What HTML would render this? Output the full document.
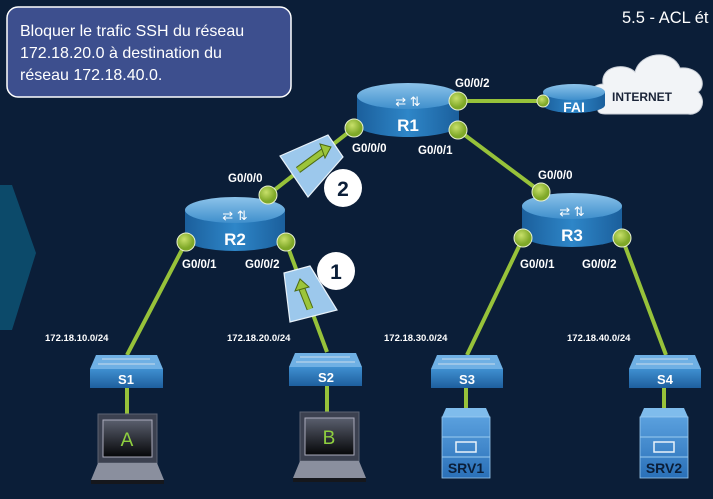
<!DOCTYPE html>
<html><head><meta charset="utf-8"><style>
html,body{margin:0;padding:0;background:#0b1e38;}
svg{display:block;}
text{font-family:"Liberation Sans",sans-serif;}
</style></head><body>
<svg width="713" height="499" viewBox="0 0 713 499" xmlns="http://www.w3.org/2000/svg">
<defs>
<linearGradient id="rb" x1="0" x2="1"><stop offset="0" stop-color="#1b5f9c"/><stop offset="0.5" stop-color="#2e86c8"/><stop offset="1" stop-color="#1b5f9c"/></linearGradient>
<linearGradient id="rt" x1="0" y1="0" x2="0" y2="1"><stop offset="0" stop-color="#8cc3ea"/><stop offset="1" stop-color="#3f8fcc"/></linearGradient>
<radialGradient id="dot" cx="0.4" cy="0.35"><stop offset="0" stop-color="#c8e06a"/><stop offset="1" stop-color="#7fa828"/></radialGradient>
<linearGradient id="sw" x1="0" y1="0" x2="0" y2="1"><stop offset="0" stop-color="#3f8fd0"/><stop offset="1" stop-color="#1e5f9e"/></linearGradient>
<linearGradient id="scr" x1="0" y1="0" x2="0" y2="1"><stop offset="0" stop-color="#5a5f6e"/><stop offset="1" stop-color="#050608"/></linearGradient>
<linearGradient id="srv" x1="0" y1="0" x2="0" y2="1"><stop offset="0" stop-color="#5aa0de"/><stop offset="1" stop-color="#2a70b8"/></linearGradient>
</defs>
<rect width="713" height="499" fill="#0b1e38"/>
<polygon points="0,185 12,185 36,253 12,330 0,330" fill="#0c4a6a"/>

<rect x="7" y="7" width="284" height="90" rx="11" fill="#3d4f8e" stroke="#ffffff" stroke-width="1.5"/>
<text fill="#fff" font-size="16"><tspan x="20" y="36">Bloquer le trafic SSH du réseau</tspan><tspan x="20" y="58">172.18.20.0 à destination du</tspan><tspan x="20" y="80">réseau 172.18.40.0.</tspan></text>
<text x="622" y="23" fill="#fff" font-size="16.5">5.5 - ACL ét</text>

<g stroke="#97c23a" stroke-width="4" fill="none">
<line x1="268" y1="195" x2="354" y2="128"/>
<line x1="458" y1="130" x2="541" y2="192"/>
<line x1="458" y1="101" x2="543" y2="101"/>
<line x1="186" y1="242" x2="127" y2="355"/>
<line x1="286" y1="242" x2="327" y2="352"/>
<line x1="523" y1="238" x2="467" y2="355"/>
<line x1="622" y1="238" x2="666" y2="355"/>
<line x1="127" y1="388" x2="127" y2="414"/>
<line x1="327" y1="386" x2="327" y2="412"/>
<line x1="466" y1="388" x2="466" y2="408"/>
<line x1="664" y1="388" x2="664" y2="408"/>
</g>

<g fill="#f2f4f7" stroke="#c9ced6">
<path d="M600,108 C585,108 585,85 603,84 C600,66 625,62 635,72 C640,52 672,48 680,68 C700,66 708,85 698,92 C708,102 700,116 688,114 L605,114 C598,114 596,110 600,108 Z"/>
</g>
<text x="612" y="101" font-size="12" font-weight="bold" fill="#1b2438">INTERNET</text>

<g>
<g>
<path d="M357,96 L357,124 A51,13 0 0 0 459,124 L459,96 Z" fill="url(#rb)"/>
<ellipse cx="408" cy="96" rx="51" ry="13" fill="url(#rt)"/>
<text x="408" y="106" text-anchor="middle" fill="#fff" font-size="13">⇄ ⇅</text>
<text x="408" y="131" text-anchor="middle" fill="#fff" font-size="17" font-weight="bold">R1</text>
</g>
<g>
<path d="M185,210 L185,238 A50,13 0 0 0 285,238 L285,210 Z" fill="url(#rb)"/>
<ellipse cx="235" cy="210" rx="50" ry="13" fill="url(#rt)"/>
<text x="235" y="220" text-anchor="middle" fill="#fff" font-size="13">⇄ ⇅</text>
<text x="235" y="245" text-anchor="middle" fill="#fff" font-size="17" font-weight="bold">R2</text>
</g>
<g>
<path d="M522,206 L522,234 A50,13 0 0 0 622,234 L622,206 Z" fill="url(#rb)"/>
<ellipse cx="572" cy="206" rx="50" ry="13" fill="url(#rt)"/>
<text x="572" y="216" text-anchor="middle" fill="#fff" font-size="13">⇄ ⇅</text>
<text x="572" y="241" text-anchor="middle" fill="#fff" font-size="17" font-weight="bold">R3</text>
</g>
<g>
<path d="M543,92 L543,105 A31,8 0 0 0 605,105 L605,92 Z" fill="url(#rb)"/>
<ellipse cx="574" cy="92" rx="31" ry="8" fill="url(#rt)"/>
<text x="574" y="112" text-anchor="middle" fill="#fff" font-size="14" font-weight="bold">FAI</text>
</g>
</g>

<g fill="url(#dot)" stroke="#e8f0d0" stroke-width="1">
<circle cx="458" cy="101" r="9"/><circle cx="354" cy="128" r="9"/><circle cx="458" cy="130" r="9"/>
<circle cx="268" cy="195" r="9"/><circle cx="186" cy="242" r="9"/><circle cx="286" cy="242" r="9"/>
<circle cx="541" cy="192" r="9"/><circle cx="523" cy="238" r="9"/><circle cx="622" cy="238" r="9"/>
<circle cx="543" cy="101" r="6"/>
</g>

<g fill="#fff" font-size="11.5" font-weight="bold">
<text x="455" y="87">G0/0/2</text>
<text x="352" y="152">G0/0/0</text>
<text x="418" y="154">G0/0/1</text>
<text x="228" y="182">G0/0/0</text>
<text x="182" y="268">G0/0/1</text>
<text x="245" y="268">G0/0/2</text>
<text x="538" y="179">G0/0/0</text>
<text x="520" y="268">G0/0/1</text>
<text x="582" y="268">G0/0/2</text>
</g>
<g fill="#fff" font-size="9.5" font-weight="bold">
<text x="45" y="341">172.18.10.0/24</text>
<text x="227" y="341">172.18.20.0/24</text>
<text x="384" y="341">172.18.30.0/24</text>
<text x="567" y="341">172.18.40.0/24</text>
</g>

<polygon points="280,156 328,135 343,157 308,197" fill="#9cc8ec" stroke="#e8f2fa" stroke-width="1.2"/>
<line x1="298" y1="170" x2="324" y2="151" stroke="#4d6b12" stroke-width="7"/>
<line x1="298" y1="170" x2="324" y2="151" stroke="#9cc53a" stroke-width="5"/>
<polygon points="320,144 331,147 325,158" fill="#9cc53a" stroke="#4d6b12"/>
<circle cx="343" cy="188" r="19" fill="#fff"/>
<text x="343" y="196" text-anchor="middle" font-size="21" font-weight="bold" fill="#0b1e38">2</text>

<polygon points="284,273 310,266 337,310 290,322" fill="#9cc8ec" stroke="#e8f2fa" stroke-width="1.2"/>
<line x1="310" y1="309" x2="302" y2="289" stroke="#4d6b12" stroke-width="7"/>
<line x1="310" y1="309" x2="302" y2="289" stroke="#9cc53a" stroke-width="5"/>
<polygon points="295,291 300,279 309,287" fill="#9cc53a" stroke="#4d6b12"/>
<circle cx="336" cy="271" r="19" fill="#fff"/>
<text x="336" y="279" text-anchor="middle" font-size="21" font-weight="bold" fill="#0b1e38">1</text>

<g>
<polygon points="96,355 157,355 163,369 90,369" fill="#6fb0e4"/><rect x="90" y="369" width="73" height="19" fill="url(#sw)"/>
<text x="126" y="384" text-anchor="middle" fill="#fff" font-size="13" font-weight="bold">S1</text>
<polygon points="295,353 356,353 362,367 289,367" fill="#6fb0e4"/><rect x="289" y="367" width="73" height="19" fill="url(#sw)"/>
<text x="326" y="382" text-anchor="middle" fill="#fff" font-size="13" font-weight="bold">S2</text>
<polygon points="437,355 497,355 503,369 431,369" fill="#6fb0e4"/><rect x="431" y="369" width="72" height="19" fill="url(#sw)"/>
<text x="467" y="384" text-anchor="middle" fill="#fff" font-size="13" font-weight="bold">S3</text>
<polygon points="635,355 695,355 701,369 629,369" fill="#6fb0e4"/><rect x="629" y="369" width="72" height="19" fill="url(#sw)"/>
<text x="665" y="384" text-anchor="middle" fill="#fff" font-size="13" font-weight="bold">S4</text>
</g>
<g stroke="#dfe6f0" stroke-width="1" opacity="0.8">
<line x1="102" y1="359" x2="150" y2="359"/><line x1="98" y1="364" x2="155" y2="364"/>
<line x1="300" y1="357" x2="350" y2="357"/><line x1="296" y1="362" x2="355" y2="362"/>
<line x1="442" y1="359" x2="490" y2="359"/><line x1="438" y1="364" x2="495" y2="364"/>
<line x1="640" y1="359" x2="688" y2="359"/><line x1="636" y1="364" x2="693" y2="364"/>
</g>

<g>
<rect x="98" y="414" width="59" height="49" fill="#3c4150" stroke="#5c6272"/>
<rect x="103" y="420" width="49" height="37" fill="url(#scr)" stroke="#aab" stroke-width="1"/>
<polygon points="98,463 157,463 164,480 91,480" fill="#8a8f9e"/>
<rect x="91" y="480" width="73" height="4" fill="#15171c"/>
<text x="127" y="446" text-anchor="middle" fill="#8fcf3f" font-size="19">A</text>
<rect x="300" y="412" width="59" height="49" fill="#3c4150" stroke="#5c6272"/>
<rect x="305" y="418" width="49" height="37" fill="url(#scr)" stroke="#aab" stroke-width="1"/>
<polygon points="300,461 359,461 366,478 293,478" fill="#8a8f9e"/>
<rect x="293" y="478" width="73" height="4" fill="#15171c"/>
<text x="329" y="444" text-anchor="middle" fill="#8fcf3f" font-size="19">B</text>
</g>

<g>
<polygon points="446,408 486,408 490,417 442,417" fill="#7fbcec"/>
<rect x="442" y="417" width="48" height="61" fill="url(#srv)" stroke="#9acbf0" stroke-width="0.8"/>
<line x1="442" y1="437" x2="490" y2="437" stroke="#9acbf0"/><line x1="442" y1="457" x2="490" y2="457" stroke="#9acbf0"/>
<rect x="456" y="442" width="20" height="10" fill="none" stroke="#e8f2fa" stroke-width="1.5"/>
<text x="466" y="473" text-anchor="middle" fill="#0b1e38" font-size="14" font-weight="bold">SRV1</text>
<polygon points="644,408 684,408 688,417 640,417" fill="#7fbcec"/>
<rect x="640" y="417" width="48" height="61" fill="url(#srv)" stroke="#9acbf0" stroke-width="0.8"/>
<line x1="640" y1="437" x2="688" y2="437" stroke="#9acbf0"/><line x1="640" y1="457" x2="688" y2="457" stroke="#9acbf0"/>
<rect x="654" y="442" width="20" height="10" fill="none" stroke="#e8f2fa" stroke-width="1.5"/>
<text x="664" y="473" text-anchor="middle" fill="#0b1e38" font-size="14" font-weight="bold">SRV2</text>
</g>
</svg>
</body></html>
